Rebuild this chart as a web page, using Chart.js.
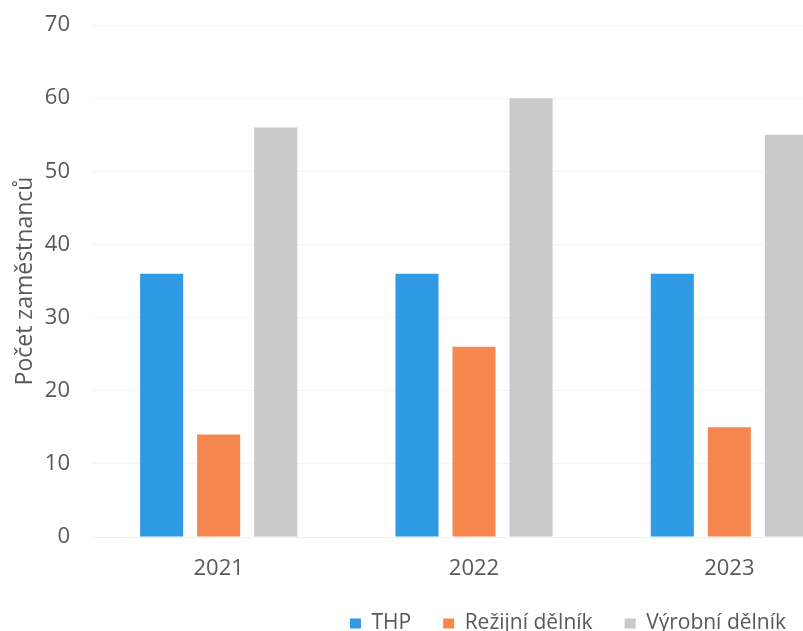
<!DOCTYPE html>
<html>
<head>
<meta charset="utf-8">
<script src="https://cdn.jsdelivr.net/npm/chart.js@4.4.0/dist/chart.umd.min.js"></script>
<style>
  html, body { margin: 0; padding: 0; background: #fff; overflow: hidden; }
  .wrap { position: relative; width: 1136px; height: 644px; }
</style>
</head>
<body>
<div class="wrap"><canvas id="chart"></canvas></div>
<script>
const years = ['2021', '2022', '2023'];
const thp = [36, 36, 36];
const rezijni = [14, 26, 15];
const vyrobni = [56, 60, 55];
const yTicks = [0, 10, 20, 30, 40, 50, 60, 70];

const textColor = '#595959';
const fontFamily = '"Open Sans", sans-serif';

const ctx = document.getElementById('chart').getContext('2d');
new Chart(ctx, {
  type: 'bar',
  data: {
    labels: years,
    datasets: [
      { label: 'THP', data: thp, backgroundColor: '#2f9be4' },
      { label: 'Režijní dělník', data: rezijni, backgroundColor: '#f6874f' },
      { label: 'Výrobní dělník', data: vyrobni, backgroundColor: '#c9c9c9' }
    ]
  },
  options: {
    responsive: true,
    maintainAspectRatio: false,
    animation: false,
    categoryPercentage: 0.67,
    barPercentage: 0.755,
    layout: { padding: 0 },
    plugins: {
      tooltip: { enabled: false },
      legend: {
        position: 'bottom',
        labels: {
          color: textColor,
          font: { family: fontFamily, size: 21 },
          boxWidth: 11,
          boxHeight: 10,
          padding: 32
        }
      }
    },
    scales: {
      x: {
        grid: { display: false, drawTicks: false },
        border: { display: true, color: '#f0f0f0' },
        ticks: { color: textColor, font: { family: fontFamily, size: 22 }, padding: 19 },
        afterFit: axis => { axis.height = 44; }
      },
      y: {
        min: 0,
        max: 70,
        afterBuildTicks: axis => { axis.ticks = yTicks.map(v => ({ value: v })); },
        grid: { color: '#f5f5f5', drawTicks: false },
        border: { display: false },
        ticks: { color: textColor, font: { family: fontFamily, size: 22 }, padding: 21 },
        title: {
          display: true,
          text: 'Počet zaměstnanců',
          color: textColor,
          font: { family: fontFamily, size: 23 },
          padding: { top: 12, bottom: 0 }
        },
        afterFit: axis => {
          axis.width = 91;
          axis.paddingTop = 25;
        }
      },
      // empty right-hand axis, only reserves space so the wide chart is cut off like the scan
      y2: {
        position: 'right',
        grid: { display: false, drawTicks: false },
        border: { display: false },
        ticks: { display: false },
        afterFit: axis => { axis.width = 279; }
      }
    }
  }
});
</script>
</body>
</html>
